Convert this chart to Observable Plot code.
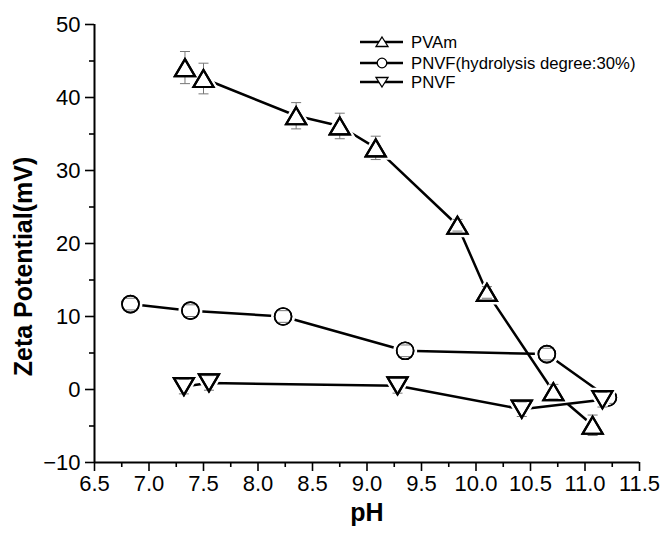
<!DOCTYPE html>
<html>
<head>
<meta charset="utf-8">
<script src="https://cdn.jsdelivr.net/npm/d3@7"></script>
<script src="https://cdn.jsdelivr.net/npm/@observablehq/plot@0.6"></script>
<style>
  html, body { margin: 0; padding: 0; background: #fff; }
  #wrap { position: relative; width: 666px; height: 535px; font-family: "Liberation Sans", Arial, sans-serif; }
  #legend { position: absolute; left: 0; top: 0; pointer-events: none; }
</style>
</head>
<body>
<div id="wrap"></div>
<script>
// ---- data ----
const pvamPH   = [7.33, 7.50, 8.35, 8.75, 9.08, 9.83, 10.10, 10.71, 11.07];
const pvamZeta = [44.1, 42.6, 37.5, 36.1, 33.1, 22.5, 13.3, -0.3, -4.9];
const pvamErr  = [2.2, 2.1, 1.8, 1.75, 1.6, 0.8, 0.8, 1.0, 1.4];

const pnvf30PH   = [6.83, 7.38, 8.23, 9.35, 10.65, 11.21];
const pnvf30Zeta = [11.7, 10.8, 10.0, 5.3, 4.85, -1.1];
const pnvf30Err  = [0.8, 0.8, 0.8, 0.8, 0.8, 0.8];

const pnvfPH   = [7.32, 7.55, 9.28, 10.42, 11.16];
const pnvfZeta = [0.4, 0.9, 0.5, -2.7, -1.4];
const pnvfErr  = [1.0, 1.0, 1.0, 1.0, 1.0];

const seriesNames = ["PVAm", "PNVF(hydrolysis degree:30%)", "PNVF"];
const xMajor = [6.5, 7.0, 7.5, 8.0, 8.5, 9.0, 9.5, 10.0, 10.5, 11.0, 11.5];
const xMinor = [6.75, 7.25, 7.75, 8.25, 8.75, 9.25, 9.75, 10.25, 10.75, 11.25];
const yMajor = [-10, 0, 10, 20, 30, 40, 50];
const yMinor = [-5, 5, 15, 25, 35, 45];
const xTitle = "pH";
const yTitle = "Zeta Potential(mV)";

// ---- build tables ----
const toRows = (xs, ys, es, s) => xs.map((x, i) => ({x, y: ys[i], e: es[i], s}));
const pvam = toRows(pvamPH, pvamZeta, pvamErr, seriesNames[0]);
const pnvf30 = toRows(pnvf30PH, pnvf30Zeta, pnvf30Err, seriesNames[1]);
const pnvf = toRows(pnvfPH, pnvfZeta, pnvfErr, seriesNames[2]);

// custom marker shapes
const triUp = {draw(c) { c.moveTo(0, -8.5); c.lineTo(10, 8.5); c.lineTo(-10, 8.5); c.closePath(); }};
const triDown = {draw(c) { c.moveTo(0, 8.5); c.lineTo(10, -8.5); c.lineTo(-10, -8.5); c.closePath(); }};
const circ = {draw(c) { c.moveTo(8.5, 0); c.arc(0, 0, 8.5, 0, 2 * Math.PI); c.closePath(); }};
const cap = {draw(c) { c.moveTo(-5, 0); c.lineTo(5, 0); }};

const font = "Liberation Sans, Arial, sans-serif";

function seriesMarks(rows, sym, sw) {
  return [
    Plot.line(rows, {x: "x", y: "y", stroke: "#000", strokeWidth: 2.5}),
    Plot.dot(rows, {x: "x", y: "y", symbol: sym, r: 9, fill: "#fff", stroke: "#fff", strokeWidth: 7}),
    Plot.link(rows, {x1: "x", x2: "x", y1: d => d.y - d.e, y2: d => d.y + d.e, stroke: "#777", strokeWidth: 1}),
    Plot.dot(rows, {x: "x", y: "y", symbol: sym, r: 9, fill: "#fff", stroke: "#000", strokeWidth: sw}),
    Plot.dot(rows, {x: "x", y: d => d.y + d.e, symbol: cap, r: 5, stroke: "#777", strokeWidth: 1}),
    Plot.dot(rows, {x: "x", y: d => d.y - d.e, symbol: cap, r: 5, stroke: "#777", strokeWidth: 1}),
    Plot.dot(rows, {x: "x", y: "y", symbol: sym, r: 9, fill: "none", stroke: "#000", strokeWidth: sw})
  ];
}

const chart = Plot.plot({
  width: 666,
  height: 535,
  marginLeft: 94,
  marginRight: 27,
  marginTop: 24,
  marginBottom: 73,
  style: {fontFamily: font, background: "#fff", color: "#000", overflow: "visible"},
  x: {domain: [6.5, 11.5]},
  y: {domain: [-10, 50]},
  marks: [
    Plot.axisX({ticks: xMajor, tickSize: 9, tickPadding: 4, tickFormat: d3.format(".1f"), fontSize: 22, strokeWidth: 1.6, label: null}),
    Plot.axisX({ticks: xMinor, tickSize: 5, tickFormat: () => "", strokeWidth: 1.6, label: null}),
    Plot.axisY({ticks: yMajor, tickSize: 9, tickPadding: 5, tickFormat: d3.format("d"), fontSize: 22, strokeWidth: 1.6, label: null}),
    Plot.axisY({ticks: yMinor, tickSize: 5, tickFormat: () => "", strokeWidth: 1.6, label: null}),
    Plot.ruleY([-10], {stroke: "#000", strokeWidth: 2}),
    Plot.ruleX([6.5], {stroke: "#000", strokeWidth: 2}),
    Plot.text([xTitle], {frameAnchor: "bottom", textAnchor: "middle", dy: 58, fontSize: 25, fontWeight: "bold", fontFamily: font}),
    Plot.text([yTitle], {frameAnchor: "left", textAnchor: "middle", rotate: -90, dx: -71, dy: 23, fontSize: 25, fontWeight: "bold", fontFamily: font}),
    ...seriesMarks(pvam, triUp, 2.2),
    ...seriesMarks(pnvf30, circ, 1.6),
    ...seriesMarks(pnvf, triDown, 2.2)
  ]
});

const wrap = document.getElementById("wrap");
wrap.appendChild(chart);

// ---- legend overlay ----
const ns = "http://www.w3.org/2000/svg";
const leg = document.createElementNS(ns, "svg");
leg.setAttribute("id", "legend");
leg.setAttribute("width", 666);
leg.setAttribute("height", 535);
const legSyms = [
  "M0,-5 L6,4.5 L-6,4.5 Z",
  null,
  "M0,5 L6,-4.5 L-6,-4.5 Z"
];
const legY = [42, 63, 82];
seriesNames.forEach((name, i) => {
  const g = document.createElementNS(ns, "g");
  g.setAttribute("transform", `translate(0,${legY[i]})`);
  const ln = document.createElementNS(ns, "line");
  ln.setAttribute("x1", 360); ln.setAttribute("x2", 403); ln.setAttribute("y1", 0); ln.setAttribute("y2", 0);
  ln.setAttribute("stroke", "#000"); ln.setAttribute("stroke-width", 2.4);
  g.appendChild(ln);
  let m;
  if (legSyms[i]) {
    m = document.createElementNS(ns, "path");
    m.setAttribute("d", legSyms[i]);
    m.setAttribute("transform", "translate(382,0)");
  } else {
    m = document.createElementNS(ns, "circle");
    m.setAttribute("cx", 382); m.setAttribute("cy", 0); m.setAttribute("r", 4.8);
  }
  m.setAttribute("fill", "#fff"); m.setAttribute("stroke", "#000"); m.setAttribute("stroke-width", 1.3);
  g.appendChild(m);
  const t = document.createElementNS(ns, "text");
  t.setAttribute("x", 411); t.setAttribute("y", 6);
  t.setAttribute("font-size", 16.7);
  t.setAttribute("font-family", font);
  t.textContent = name;
  g.appendChild(t);
  leg.appendChild(g);
});
wrap.appendChild(leg);
</script>
</body>
</html>
